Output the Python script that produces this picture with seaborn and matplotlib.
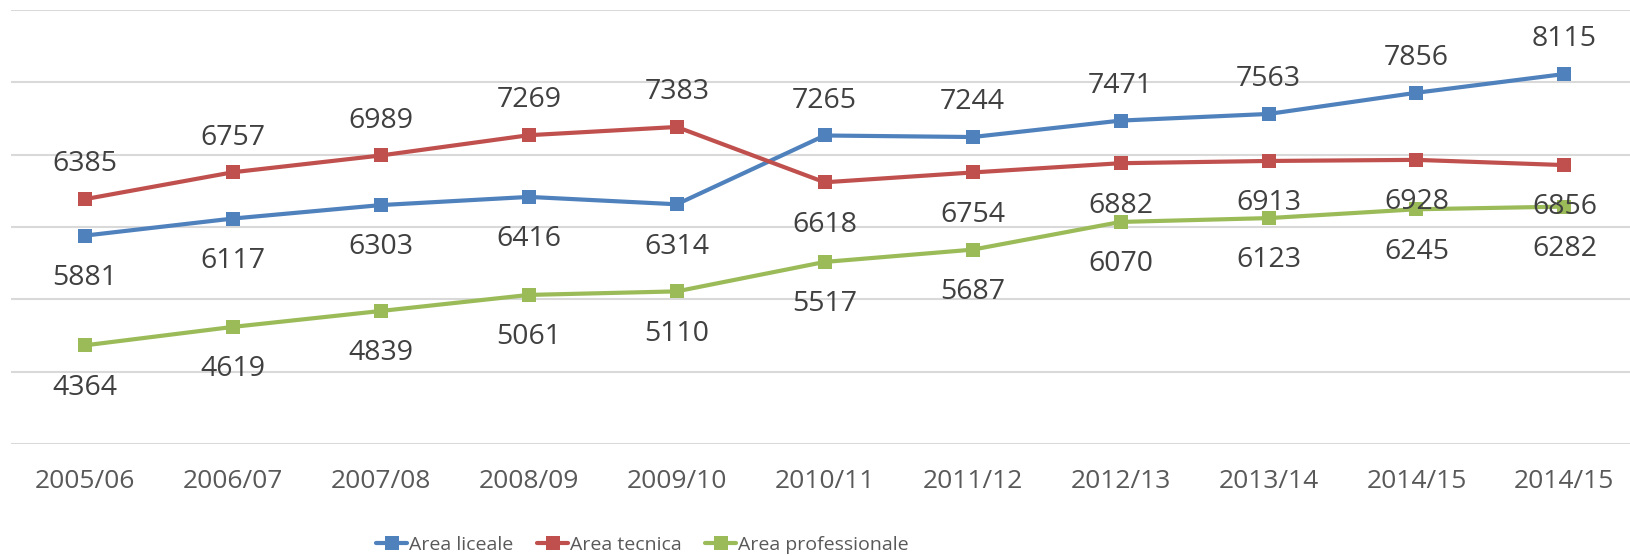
import matplotlib
matplotlib.use("Agg")
import matplotlib.pyplot as plt
import seaborn as sns
import pandas as pd
from matplotlib.lines import Line2D

# anni scolastici (l'ultima etichetta è ripetuta come nell'originale)
anni = ["2005/06", "2006/07", "2007/08", "2008/09", "2009/10", "2010/11",
        "2011/12", "2012/13", "2013/14", "2014/15", "2014/15"]

liceale = [5881, 6117, 6303, 6416, 6314, 7265, 7244, 7471, 7563, 7856, 8115]
tecnica = [6385, 6757, 6989, 7269, 7383, 6618, 6754, 6882, 6913, 6928, 6856]
professionale = [4364, 4619, 4839, 5061, 5110, 5517, 5687, 6070, 6123, 6245, 6282]

nomi = ["Area liceale", "Area tecnica", "Area professionale"]
colori = ["#4F81BD", "#C0504D", "#9BBB59"]

sns.set_style("white")
plt.rcParams["font.family"] = ["Open Sans", "DejaVu Sans"]

fig = plt.figure(figsize=(16.31, 5.56), dpi=100)
ax = fig.add_axes([11 / 1631, 1 - 444 / 556, 1 - 11 / 1631, (444 - 10) / 556])

x = list(range(len(anni)))
serie = [liceale, tecnica, professionale]

# posizione etichette: sopra (+1) o sotto (-1)
pos_lic = [-1] * 5 + [1] * 6
pos_tec = [1] * 5 + [-1] * 6
pos_pro = [-1] * 11
posizioni = [pos_lic, pos_tec, pos_pro]

for vals, col, nome, pos in zip(serie, colori, nomi, posizioni):
    df = pd.DataFrame({"x": x, "y": vals})
    sns.lineplot(data=df, x="x", y="y", ax=ax, color=col, linewidth=3,
                 marker="s", markersize=10, markeredgewidth=0, label=nome,
                 legend=False)
    for xi, v, p in zip(x, vals, pos):
        off = 25 if p > 0 else -30.5
        ax.annotate(str(v), (xi, v), xytext=(0, off), textcoords="offset points",
                    ha="center", va="center", fontsize=20.5, color="#404040")

ax.set_ylim(3000, 9000)
ax.set_yticks(range(3000, 9001, 1000))
ax.set_yticklabels([])
ax.tick_params(axis="y", length=0)
ax.set_xlim(-0.5, 10.45)
ax.set_xticks(x)
ax.set_xticklabels(anni, fontsize=19, color="#595959")
ax.tick_params(axis="x", length=0, pad=18)
ax.grid(axis="y", color="#D9D9D9", linewidth=1.5)
ax.set_axisbelow(True)
ax.set_xlabel("")
ax.set_ylabel("")
for s in ax.spines.values():
    s.set_visible(False)

handles = [Line2D([0], [0], color=c, linewidth=3, marker="s", markersize=10,
                  markeredgewidth=0) for c in colori]
fig.legend(handles, nomi, loc="center", bbox_to_anchor=(0.394, 1 - 545 / 556),
           ncol=3, frameon=False, handlelength=1.6, handletextpad=0.1,
           columnspacing=1.2, prop={"size": 14}, labelcolor="#595959")

fig.savefig("out.png", dpi=100)
